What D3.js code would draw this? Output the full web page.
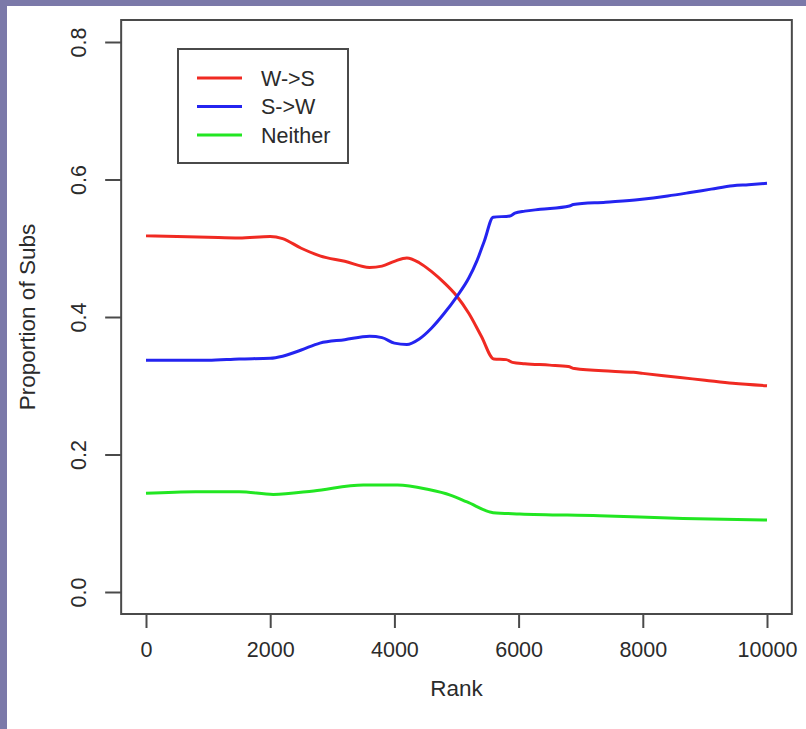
<!DOCTYPE html>
<html>
<head>
<meta charset="utf-8">
<script src="https://cdn.jsdelivr.net/npm/d3@7"></script>
<style>
  html, body { margin: 0; padding: 0; background: #ffffff; }
  svg { display: block; }
  text { font-family: "Liberation Sans", Arial, Helvetica, sans-serif; fill: #2b2b2b; }
</style>
</head>
<body>
<script>
// ---- data ----
const seriesNames = ["W->S", "S->W", "Neither"];
const seriesColors = ["#f02a22", "#2424f0", "#22e622"];

const rankWS = [0, 500, 1000, 1500, 2000, 2200, 2500, 2800, 3200, 3600, 3800, 4000, 4200, 4400, 4600, 4800, 5000, 5200, 5400, 5600, 5800, 5900, 6100, 6500, 6800, 6900, 7500, 7850, 8000, 8600, 9000, 9450, 10000];
const valWS  = [0.518, 0.517, 0.516, 0.515, 0.517, 0.514, 0.500, 0.489, 0.481, 0.472, 0.474, 0.481, 0.486, 0.479, 0.466, 0.450, 0.431, 0.405, 0.372, 0.339, 0.338, 0.334, 0.332, 0.330, 0.328, 0.325, 0.321, 0.3195, 0.318, 0.312, 0.308, 0.3035, 0.300];

const rankSW = [0, 500, 1000, 1500, 2000, 2200, 2500, 2800, 3200, 3600, 3800, 4000, 4200, 4400, 4600, 4800, 5000, 5200, 5330, 5450, 5590, 5860, 5940, 6100, 6350, 6820, 6880, 7400, 7950, 8400, 8760, 9100, 9450, 9700, 10000];
const valSW  = [0.337, 0.337, 0.337, 0.339, 0.340, 0.343, 0.352, 0.362, 0.367, 0.372, 0.370, 0.362, 0.360, 0.368, 0.384, 0.405, 0.429, 0.457, 0.482, 0.511, 0.545, 0.547, 0.551, 0.554, 0.5566, 0.5615, 0.5635, 0.567, 0.571, 0.576, 0.581, 0.586, 0.591, 0.5925, 0.5945];

const rankN = [0, 800, 1500, 2050, 2700, 3500, 4050, 4550, 4900, 5170, 5590, 6020, 7300, 8650, 10000];
const valN  = [0.1436, 0.146, 0.146, 0.142, 0.147, 0.1556, 0.1556, 0.149, 0.141, 0.131, 0.1154, 0.1135, 0.111, 0.107, 0.1047];

const xTicks = [0, 2000, 4000, 6000, 8000, 10000];
const yTicks = [0.0, 0.2, 0.4, 0.6, 0.8];
const xLabel = "Rank";
const yLabel = "Proportion of Subs";

// ---- drawing ----
const W = 806, H = 729;
const svg = d3.select("body").append("svg").attr("width", W).attr("height", H);

// slide border
svg.append("rect").attr("x", 0).attr("y", 0).attr("width", W).attr("height", 6).attr("fill", "#7b79a9");
svg.append("rect").attr("x", 0).attr("y", 0).attr("width", 7).attr("height", H).attr("fill", "#7b79a9");

const x = d3.scaleLinear().domain([0, 10000]).range([146, 767]);
const y = d3.scaleLinear().domain([0, 0.8]).range([592, 42]);

const fs = 21.5;
const fsTitle = 22.5;

// plot box
const bx0 = x(-400), bx1 = x(10400), by0 = y(0.832), by1 = y(-0.032);
svg.append("rect").attr("x", bx0).attr("y", by0).attr("width", bx1 - bx0).attr("height", by1 - by0)
  .attr("fill", "none").attr("stroke", "#4a4a4a").attr("stroke-width", 2);

// x axis
const xAxis = d3.axisBottom(x).tickValues(xTicks).tickSize(14).tickPadding(14).tickFormat(d3.format("d"));
const gx = svg.append("g").attr("transform", `translate(0,${by1})`).call(xAxis);
gx.select(".domain").remove();
gx.selectAll(".tick line").attr("stroke", "#4a4a4a").attr("stroke-width", 2);
gx.selectAll(".tick text").attr("font-size", fs).attr("fill", "#2b2b2b")
  .attr("font-family", "'Liberation Sans', Arial, sans-serif");

// y axis
const yAxis = d3.axisLeft(y).tickValues(yTicks).tickSize(16).tickPadding(0).tickFormat(d3.format(".1f"));
const gy = svg.append("g").attr("transform", `translate(${bx0},0)`).call(yAxis);
gy.select(".domain").remove();
gy.selectAll(".tick line").attr("stroke", "#4a4a4a").attr("stroke-width", 2);
gy.selectAll(".tick text").attr("font-size", fs).attr("fill", "#2b2b2b")
  .attr("font-family", "'Liberation Sans', Arial, sans-serif")
  .attr("text-anchor", "middle").attr("x", null)
  .attr("transform", "translate(-43,0) rotate(-90)").attr("dy", "0.35em");

// axis titles
svg.append("text").attr("x", (x(0) + x(10000)) / 2).attr("y", 688).attr("dy", "0.35em")
  .attr("text-anchor", "middle").attr("font-size", fsTitle).text(xLabel);
svg.append("text").attr("transform", `translate(27,${(by0 + by1) / 2}) rotate(-90)`).attr("dy", "0.35em")
  .attr("text-anchor", "middle").attr("font-size", fsTitle).text(yLabel);

// lines
const series = [
  { name: seriesNames[0], color: seriesColors[0], r: rankWS, v: valWS },
  { name: seriesNames[1], color: seriesColors[1], r: rankSW, v: valSW },
  { name: seriesNames[2], color: seriesColors[2], r: rankN, v: valN }
];
const line = d3.line().x(d => x(d[0])).y(d => y(d[1])).curve(d3.curveMonotoneX);
series.forEach(s => {
  svg.append("path").datum(s.r.map((r, i) => [r, s.v[i]]))
    .attr("d", line).attr("fill", "none").attr("stroke", s.color)
    .attr("stroke-width", 3).attr("stroke-linejoin", "round").attr("stroke-linecap", "butt");
});

// legend
const leg = svg.append("g");
leg.append("rect").attr("x", 178).attr("y", 49).attr("width", 170).attr("height", 114)
  .attr("fill", "#ffffff").attr("stroke", "#4a4a4a").attr("stroke-width", 2);
series.forEach((s, i) => {
  const ly = 78 + i * 28.5;
  leg.append("line").attr("x1", 197).attr("x2", 242).attr("y1", ly).attr("y2", ly)
    .attr("stroke", s.color).attr("stroke-width", 3);
  leg.append("text").attr("x", 261).attr("y", ly).attr("dy", "0.35em")
    .attr("font-size", fs).text(s.name);
});
</script>
</body>
</html>
